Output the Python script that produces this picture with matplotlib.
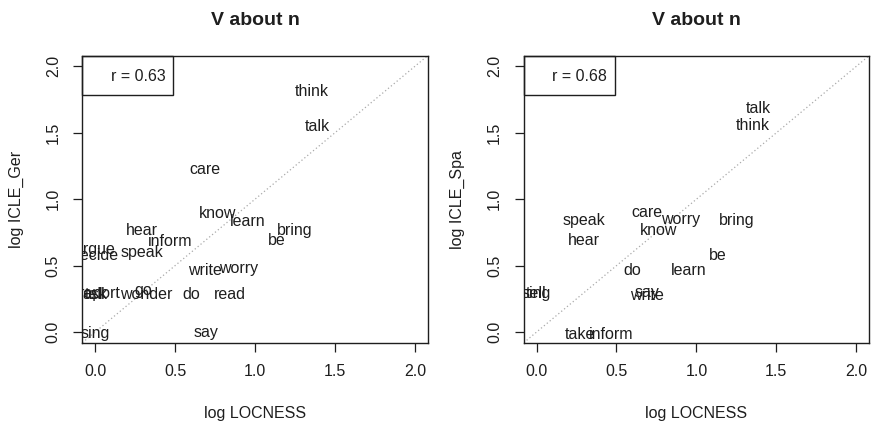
import matplotlib
matplotlib.use("Agg")
import matplotlib.pyplot as plt
from matplotlib.patches import Rectangle

plt.rcParams['font.family'] = ['Liberation Sans', 'DejaVu Sans']

# shared LOCNESS values (log)
locness = {
    "think": 1.354, "talk": 1.39, "care": 0.69, "know": 0.766, "learn": 0.954,
    "bring": 1.25, "be": 1.135, "hear": 0.294, "inform": 0.469, "speak": 0.294,
    "write": 0.69, "worry": 0.898, "do": 0.60, "read": 0.844, "say": 0.694,
    "sing": 0.0, "wonder": 0.32, "go": 0.30, "argue": 0.0, "decide": 0.0,
    "ask": 0.0, "tell": 0.0, "report": 0.03, "take": 0.27,
}

ger_words = ["think", "talk", "care", "know", "learn", "bring", "be", "hear",
             "inform", "speak", "write", "worry", "do", "read", "say", "sing",
             "wonder", "go", "argue", "decide", "ask", "tell", "report"]
ger_vals = [1.81, 1.55, 1.225, 0.889, 0.833, 0.765, 0.69, 0.765,
            0.685, 0.60, 0.467, 0.48, 0.283, 0.283, 0.0, -0.01,
            0.283, 0.31, 0.62, 0.58, 0.283, 0.283, 0.29]

spa_words = ["talk", "think", "care", "worry", "know", "bring", "speak", "hear",
             "be", "do", "learn", "write", "say", "inform", "take", "sing", "tell"]
spa_vals = [1.68, 1.553, 0.90, 0.85, 0.765, 0.838, 0.838, 0.687,
            0.58, 0.462, 0.462, 0.278, 0.30, -0.017, -0.017, 0.29, 0.29]

panels = [
    ("log ICLE_Ger", ger_words, ger_vals, "r = 0.63", 0.0945),
    ("log ICLE_Spa", spa_words, spa_vals, "r = 0.68", 0.6013),
]

ticks = [0.0, 0.5, 1.0, 1.5, 2.0]
lo, hi = -0.08, 2.08
ink = "#1e1e1e"

fig = plt.figure(figsize=(8.71, 4.24), dpi=100)

for ylab, words, vals, rtxt, left in panels:
    ax = fig.add_axes([left, 0.1917, 0.3965, 0.6769])
    ax.set_xlim(lo, hi)
    ax.set_ylim(lo, hi)
    ax.plot([lo, hi], [lo, hi], linestyle=(0, (1, 2)), color="#aaaaaa", lw=0.9)
    for w, v in zip(words, vals):
        ax.text(locness[w], v, w, ha="center", va="center", fontsize=11.5,
                color=ink, clip_on=True)
    # r legend box
    ax.add_patch(Rectangle((lo, 1.786), 0.489 - lo, hi - 1.786, fill=False,
                           edgecolor=ink, lw=1.0, clip_on=False))
    ax.text(0.27, 1.925, rtxt, ha="center", va="center", fontsize=11.5, color=ink)
    ax.set_xticks(ticks)
    ax.set_yticks(ticks)
    ax.set_xticklabels([f"{t:.1f}" for t in ticks])
    ax.set_yticklabels([f"{t:.1f}" for t in ticks], rotation=90, va="center")
    ax.tick_params(direction="out", length=6.5, width=0.9, colors=ink,
                   labelsize=11.5, pad=9)
    for s in ax.spines.values():
        s.set_color(ink)
        s.set_linewidth(1.0)
    ax.set_xlabel("log LOCNESS", fontsize=11.5, color=ink, labelpad=19)
    ax.set_ylabel(ylab, fontsize=11.5, color=ink, labelpad=16)
    ax.set_title("V about n", fontsize=14, fontweight="bold", color=ink, pad=22)

fig.savefig("out.png", dpi=100)
